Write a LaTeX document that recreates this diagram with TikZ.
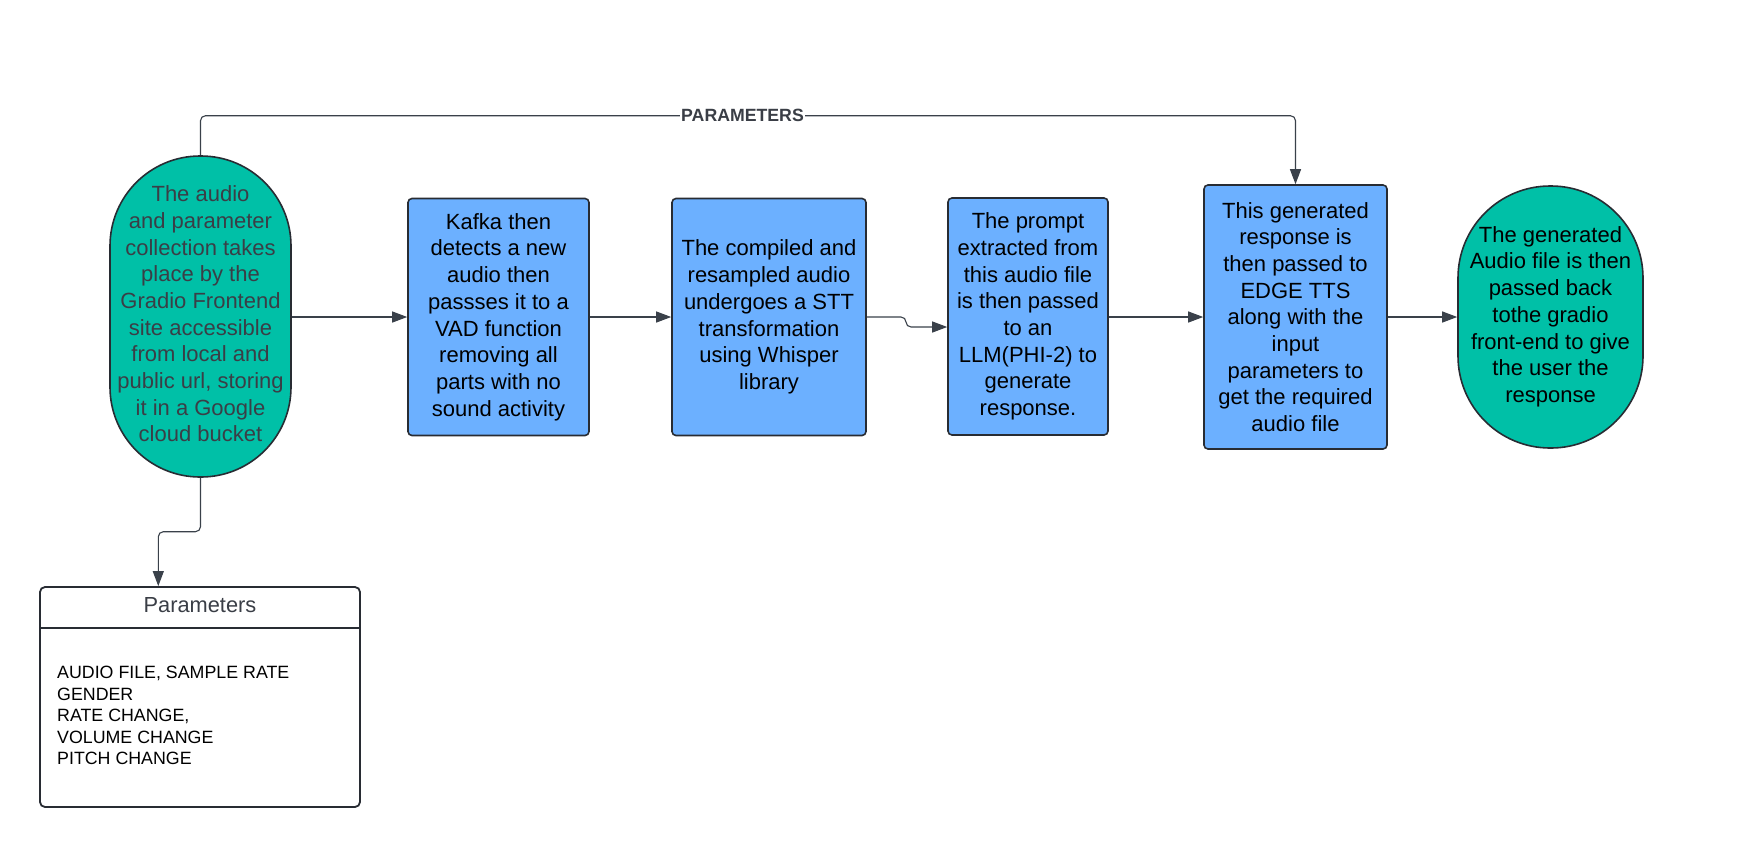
\documentclass[tikz,border=0pt]{standalone}
\usepackage{fontspec}
\setmainfont{Liberation Sans}
\usetikzlibrary{arrows.meta}
\definecolor{tealfill}{RGB}{0,192,167}
\definecolor{bluefill}{RGB}{108,176,255}
\definecolor{edgecol}{RGB}{40,44,51}
\definecolor{conncol}{RGB}{58,65,74}
\definecolor{graytext}{RGB}{58,62,70}
\begin{document}
\begin{tikzpicture}[x=1pt,y=-1pt,
  bodyfont/.style={font={\fontsize{22}{26.7}\selectfont}},
  pill/.style={draw=edgecol, line width=1.6pt, fill=tealfill, align=center, inner sep=0pt, bodyfont},
  stepbox/.style={draw=edgecol, line width=1.6pt, fill=bluefill, rounded corners=4pt, align=center, inner sep=0pt, bodyfont},
  cn/.style={draw=conncol, line width=1.1pt, -{Triangle[length=15pt,width=11pt]}},
  lbl/.style={fill=white, inner sep=1pt, text=graytext, font={\fontsize{17.7}{20}\selectfont\bfseries}}
]
\useasboundingbox (0,0) rectangle (1757,847);
\fill[white] (0,0) rectangle (1757,847);

\node[pill, rounded corners=90pt, minimum width=181pt, minimum height=321pt, text=graytext] (src) at (200.5,316.5)
  {\raisebox{5pt}{\begin{tabular}{@{}c@{}}The audio\\and parameter\\collection takes\\place by the\\Gradio Frontend\\site accessible\\from local and\\public url, storing\\it in a Google\\cloud bucket\end{tabular}}};

\node[stepbox, minimum width=181pt, minimum height=237pt] (kafka) at (498.5,317)
  {Kafka then\\detects a new\\audio then\\passses it to a\\VAD function\\removing all\\parts with no\\sound activity};

\node[stepbox, minimum width=194pt, minimum height=237pt] (stt) at (769,317)
  {The compiled and\\resampled audio\\undergoes a STT\\transformation\\using Whisper\\library};

\node[stepbox, minimum width=160pt, minimum height=237pt] (llm) at (1028,316.5)
  {The prompt\\extracted from\\this audio file\\is then passed\\to an\\LLM(PHI-2) to\\generate\\response.};

\node[stepbox, minimum width=183pt, minimum height=264pt] (tts) at (1295.5,317)
  {This generated\\response is\\then passed to\\EDGE TTS\\along with the\\input\\parameters to\\get the required\\audio file};

\node[pill, rounded corners=92pt, minimum width=185pt, minimum height=262pt] (out) at (1550.5,317)
  {\raisebox{4pt}{\begin{tabular}{@{}c@{}}The generated\\Audio file is then\\passed back\\tothe gradio\\front-end to give\\the user the\\response\end{tabular}}};

\node[draw=edgecol, line width=1.8pt, rounded corners=5pt, minimum width=320pt, minimum height=220pt, inner sep=0pt] (params) at (200,697) {};
\draw[edgecol, line width=1.6pt] (params.west |- 0,628) -- (params.east |- 0,628);
\node[text=graytext, font={\fontsize{21.8}{26}\selectfont}] (ptitle) at (200,605) {Parameters};
\node[anchor=west, align=left, inner sep=0pt, font={\fontsize{17.8}{21.6}\selectfont}] (pitems) at (57,715.5)
  {AUDIO FILE, SAMPLE RATE\\GENDER\\RATE CHANGE,\\VOLUME CHANGE\\PITCH CHANGE};

% connectors
\draw[cn] (src.east |- 0,317) -- (kafka.west |- 0,317);
\draw[cn] (kafka.east |- 0,317) -- (stt.west |- 0,317);
\draw[cn, rounded corners=5pt] (stt.east |- 0,317) -- (906,317) -- (906,327) -- (llm.west |- 0,327);
\draw[cn] (llm.east |- 0,317) -- (tts.west |- 0,317);
\draw[cn] (tts.east |- 0,317) -- (out.west |- 0,317);
\draw[cn, rounded corners=5pt] (src.north) -- (200.5,115.7) -- node[lbl, pos=0.495] {PARAMETERS} (1295.5,115.7) -- (tts.north);
\draw[cn, rounded corners=5pt] (src.south) -- (200.5,531.7) -- (158.3,531.7) -- (params.north -| 158.3,0);
\end{tikzpicture}
\end{document}
